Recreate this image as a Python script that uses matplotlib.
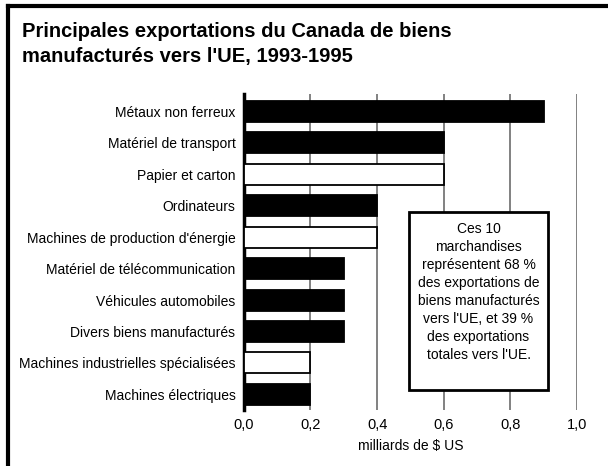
import matplotlib.pyplot as plt
from matplotlib.patches import Rectangle
from matplotlib import font_manager

names = {f.name for f in font_manager.fontManager.ttflist}
narrow = 'Liberation Sans Narrow' if 'Liberation Sans Narrow' in names else 'Liberation Sans'
plt.rcParams['font.family'] = [narrow, 'DejaVu Sans']

# donnees
produits = ["Métaux non ferreux", "Matériel de transport", "Papier et carton",
            "Ordinateurs", "Machines de production d'énergie",
            "Matériel de télécommunication", "Véhicules automobiles",
            "Divers biens manufacturés", "Machines industrielles spécialisées",
            "Machines électriques"]
valeurs = [0.9, 0.6, 0.6, 0.4, 0.4, 0.3, 0.3, 0.3, 0.2, 0.2]
noir = [True, True, False, True, False, True, True, True, False, True]
ticks = [0.0, 0.2, 0.4, 0.6, 0.8, 1.0]
tick_labels = ["0,0", "0,2", "0,4", "0,6", "0,8", "1,0"]

fig = plt.figure(figsize=(6.08, 4.66), dpi=100)
ax = fig.add_axes([0.401, 0.120, 0.548, 0.678])

y = list(range(len(produits)))
couleurs = ['black' if n else 'white' for n in noir]
ax.barh(y, valeurs, height=0.67, color=couleurs, edgecolor='black', linewidth=1.3, zorder=3)
ax.set_ylim(9.5, -0.55)
ax.set_xlim(0, 1.0)
ax.set_yticks(y)
ax.set_yticklabels(produits, fontsize=10)
ax.set_xticks(ticks)
ax.set_xticklabels(tick_labels, fontsize=10.5)
ax.tick_params(length=0, pad=6)
ax.set_xlabel("milliards de $ US", fontsize=10, labelpad=5)
for t in ticks[1:]:
    ax.axvline(t, color='#777777', lw=1.3, zorder=1)
for s in ['top', 'right', 'bottom']:
    ax.spines[s].set_visible(False)
ax.spines['left'].set_linewidth(2.5)

# encadre
ax.add_patch(Rectangle((0.496, 0.063), 0.417, 0.564, transform=ax.transAxes,
                       facecolor='white', edgecolor='black', lw=2, zorder=5))
ax.text(0.7045, 0.373, "Ces 10\nmarchandises\nreprésentent 68 %\ndes exportations de\n"
        "biens manufacturés\nvers l'UE, et 39 %\ndes exportations\ntotales vers l'UE.",
        transform=ax.transAxes, ha='center', va='center', fontsize=10,
        linespacing=1.36, zorder=6)

fig.text(0.036, 0.906, "Principales exportations du Canada de biens\nmanufacturés vers l'UE, 1993-1995",
         fontsize=14.5, fontweight='bold', ha='left', va='center', linespacing=1.4)

# cadre
fig.add_artist(plt.Line2D([0.013, 1.0], [0.988, 0.988], color='black', lw=3, transform=fig.transFigure))
fig.add_artist(plt.Line2D([0.013, 0.013], [0.0, 0.988], color='black', lw=3, transform=fig.transFigure))

fig.savefig("out.png", dpi=100)
